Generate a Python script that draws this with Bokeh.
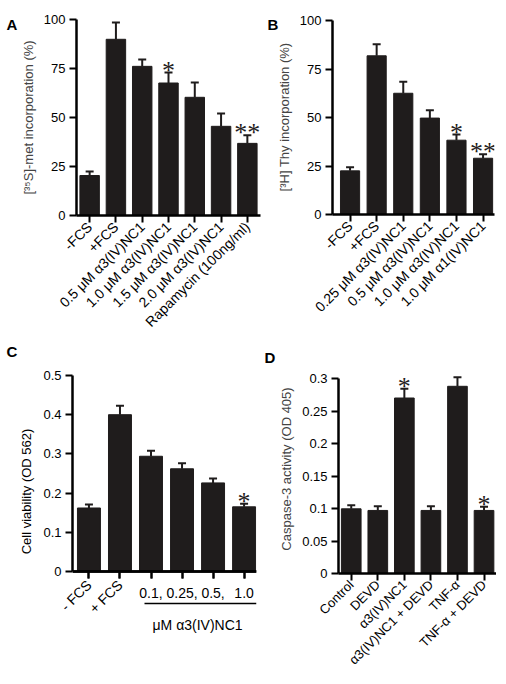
import math
from bokeh.plotting import figure
from bokeh.layouts import row, column
from bokeh.models import (Range1d, FixedTicker, Whisker, ColumnDataSource, LabelSet,
                          Label, TeeHead, LinearAxis)
from bokeh.embed import file_html
from bokeh.resources import INLINE

FONT = "Liberation Sans"
BAR = "#1f1c1c"

# ---------------- Panel A ----------------
a_labels = ["-FCS", "+FCS", "0.5 μM α3(IV)NC1", "1.0 μM α3(IV)NC1",
            "1.5 μM α3(IV)NC1", "2.0 μM α3(IV)NC1", "Rapamycin (100ng/ml)"]
a_values = [20.4, 89.9, 76.1, 67.6, 60.3, 45.5, 36.8]
a_upper = [22.5, 98.5, 79.6, 72.9, 67.8, 52.0, 40.9]
a_stars = ["", "", "", "*", "", "", "**"]
a_yticks = [0, 25, 50, 75, 100]
a_yticklabels = ["0", "25", "50", "75", "100"]
a_ylabel = "[³⁵S]-met incorporation (%)"

# ---------------- Panel B ----------------
b_labels = ["-FCS", "+FCS", "0.25 μM α3(IV)NC1", "0.5 μM α3(IV)NC1",
            "1.0 μM α3(IV)NC1", "1.0 μM α1(IV)NC1"]
b_values = [22.5, 81.8, 62.5, 49.7, 38.3, 29.0]
b_upper = [24.4, 87.8, 68.4, 53.8, 41.2, 31.1]
b_stars = ["", "", "", "", "*", "**"]
b_yticks = [0, 25, 50, 75, 100]
b_yticklabels = ["0", "25", "50", "75", "100"]
b_ylabel = "[³H] Thy incorporation (%)"

# ---------------- Panel C ----------------
c_labels = ["- FCS", "+ FCS", "0.1,", "0.25,", "0.5,", "1.0"]
c_group_label = "μM α3(IV)NC1"
c_values = [0.162, 0.400, 0.294, 0.262, 0.226, 0.165]
c_upper = [0.171, 0.423, 0.308, 0.276, 0.237, 0.173]
c_stars = ["", "", "", "", "", "*"]
c_yticks = [0, 0.1, 0.2, 0.3, 0.4, 0.5]
c_yticklabels = ["0", "0.1", "0.2", "0.3", "0.4", "0.5"]
c_ylabel = "Cell viability (OD 562)"

# ---------------- Panel D ----------------
d_labels = ["Control", "DEVD", "α3(IV)NC1", "α3(IV)NC1 + DEVD", "TNF-α", "TNF-α + DEVD"]
d_values = [0.0995, 0.097, 0.270, 0.097, 0.288, 0.097]
d_upper = [0.105, 0.1036, 0.2844, 0.1036, 0.302, 0.1026]
d_stars = ["", "", "*", "", "", "*"]
d_yticks = [0, 0.05, 0.1, 0.15, 0.2, 0.25, 0.3]
d_yticklabels = ["0", "0.05", "0.1", "0.15", "0.2", "0.25", "0.3"]
d_ylabel = "Caspase-3 activity (OD 405)"

LABEL_SIZE = "14px"


def style_x_axis(ax, size=LABEL_SIZE):
    ax.minor_tick_line_color = None
    ax.axis_line_width = 2.5
    ax.major_tick_line_width = 2
    ax.major_tick_out = 7
    ax.major_tick_in = 0
    ax.major_label_text_font = FONT
    ax.major_label_text_font_size = size
    ax.major_label_text_color = "black"


def make_panel(labels, values, upper, stars, yticks, yticklabels, ylabel, letter,
               fig_box, frame_box, xr, y_px, letter_px, bar_w,
               default_xaxis=True, ylabel_px=None, xlabel_size=LABEL_SIZE):
    """fig_box = (left, top, width, height) on the page; frame_box = (l, t, r, b) on page.
    y_px = (page y of the top tick, page y of 0)."""
    fl, ft, fwid, fhei = fig_box
    l, t, r, b = frame_box
    fw, fh = r - l, b - t
    y_top_px, y_zero_px = y_px
    ymax = yticks[-1]
    per_px = ymax / (y_zero_px - y_top_px)
    y_end = ymax + (y_top_px - t) * per_px
    y_start = -(b - y_zero_px) * per_px
    p = figure(frame_width=fw, frame_height=fh,
               min_border_left=l - fl, min_border_right=fl + fwid - r,
               min_border_top=t - ft, min_border_bottom=ft + fhei - b,
               x_range=Range1d(*xr), y_range=Range1d(y_start, y_end),
               x_axis_location="below" if default_xaxis else None,
               output_backend="svg", toolbar_location=None)
    p.outline_line_color = None
    p.grid.visible = False
    p.background_fill_color = "white"
    p.border_fill_color = "white"

    def to_data(px, py):
        return (xr[0] + (px - l) * (xr[1] - xr[0]) / fw,
                ymax + (y_top_px - py) * per_px)

    n = len(values)
    xs = list(range(n))
    src = ColumnDataSource(dict(x=xs, top=values, up=upper, star=stars))
    p.vbar(x="x", top="top", bottom=0, width=bar_w, source=src,
           fill_color=BAR, line_color=BAR)
    p.add_layout(Whisker(base="x", lower="top", upper="up", source=src,
                         line_color=BAR, line_width=2, lower_head=None,
                         upper_head=TeeHead(size=8, line_width=2, line_color=BAR)))
    p.add_layout(LabelSet(x="x", y="up", text="star", source=src,
                          text_align="center", text_baseline="alphabetic",
                          text_font="DejaVu Sans", text_font_size="26px",
                          y_offset=-6, text_color=BAR))

    # y axis
    ya = p.yaxis[0]
    ya.ticker = FixedTicker(ticks=yticks)
    ya.bounds = (yticks[0], yticks[-1])
    ya.major_label_overrides = {tk: lb for tk, lb in zip(yticks, yticklabels)}
    ya.minor_tick_line_color = None
    ya.axis_line_width = 2.5
    ya.major_tick_line_width = 2
    ya.major_tick_out = 7
    ya.major_tick_in = 0
    ya.major_label_standoff = 4
    ya.major_label_text_font = FONT
    ya.major_label_text_font_size = "13px"
    ya.major_label_text_color = "black"
    if ylabel_px is None:
        ya.axis_label = ylabel
        ya.axis_label_text_font = FONT
        ya.axis_label_text_font_size = "13px"
        ya.axis_label_text_font_style = "normal"
        ya.axis_label_standoff = 5

    if default_xaxis:
        xa = p.xaxis[0]
        xa.ticker = FixedTicker(ticks=xs)
        style_x_axis(xa, xlabel_size)
        xa.major_label_overrides = {i: lb for i, lb in zip(xs, labels)}
        xa.major_label_orientation = math.pi / 4
        xa.major_label_standoff = 2

    # panel letter, in the left side panel (not clipped), at a data-unit position
    lx, ly = to_data(*letter_px)
    p.add_layout(Label(x=lx, y=ly, text=letter, text_font=FONT, text_font_style="bold",
                       text_font_size="15px", text_color="black",
                       text_baseline="alphabetic", text_align="left"), "left")
    if ylabel_px is not None:
        tx, ty = to_data(*ylabel_px)
        p.add_layout(Label(x=tx, y=ty, text=ylabel, angle=math.pi / 2, text_font=FONT,
                           text_font_size="13px", text_color="black",
                           text_align="center", text_baseline="middle"), "left")
    return p, xs, to_data


# page coordinates (the canvas of each figure starts at page offset 2,2);
# frames in one row share the same top edge.
pA, _, _ = make_panel(a_labels, a_values, a_upper, a_stars, a_yticks, a_yticklabels, a_ylabel,
                      "A", (2, 2, 262, 336), (78, 21, 262, 217), (-0.5, 6.5), (21, 217),
                      (8, 26), 0.74)
pB, _, _ = make_panel(b_labels, b_values, b_upper, b_stars, b_yticks, b_yticklabels, b_ylabel,
                      "B", (264, 2, 234, 336), (331, 21, 493, 216), (-0.66, 5.43), (22, 216),
                      (266, 26), 0.72)
pC, c_xs, c_to_data = make_panel(c_labels, c_values, c_upper, c_stars, c_yticks, c_yticklabels,
                                 c_ylabel, "C", (2, 338, 262, 338), (74, 364, 258, 634),
                                 (-0.53, 5.4), (375, 571), (8, 351), 0.74,
                                 default_xaxis=False, ylabel_px=(28, 491))
pD, _, _ = make_panel(d_labels, d_values, d_upper, d_stars, d_yticks, d_yticklabels, d_ylabel,
                      "D", (264, 338, 234, 338), (340, 364, 498, 573), (-0.48, 5.47), (378, 573),
                      (266, 357), 0.74, xlabel_size="13px")

# Panel C: axes fixed at y = 0 (rotated "+ FCS" label, horizontal doses), the first
# rotated label in the bottom side panel (so the frame edge does not cut it), and a
# bracket axis under the doses carrying the shared unit label.
ax_fcs = LinearAxis(fixed_location=0, ticker=FixedTicker(ticks=c_xs),
                    major_label_overrides={i: (lb if i == 1 else "") for i, lb in zip(c_xs, c_labels)},
                    major_label_orientation=math.pi / 4, major_label_standoff=4)
style_x_axis(ax_fcs)
ax_num = LinearAxis(fixed_location=0, ticker=FixedTicker(ticks=c_xs),
                    major_label_overrides={i: (lb if i >= 2 else "") for i, lb in zip(c_xs, c_labels)},
                    major_label_standoff=9)
style_x_axis(ax_num)
pC.add_layout(ax_fcs, "below")
pC.add_layout(ax_num, "below")
pC.add_layout(Label(x=c_xs[0], y=0, text=c_labels[0], angle=math.pi / 4,
                    text_align="right", text_baseline="middle", y_offset=-11,
                    text_font=FONT, text_font_size=LABEL_SIZE, text_color="black"), "below")
grp_y = c_to_data(0, 603)[1]
grp_axis = LinearAxis(fixed_location=grp_y, bounds=(1.8, 5.4), ticker=FixedTicker(ticks=[3.5]),
                      major_label_overrides={3.5: c_group_label},
                      major_tick_out=0, major_tick_in=0, minor_tick_line_color=None,
                      axis_line_width=1.5, major_label_standoff=13,
                      major_label_text_font=FONT, major_label_text_font_size=LABEL_SIZE,
                      major_label_text_color="black")
pC.add_layout(grp_axis, "below")

layout = column(row(pA, pB), row(pC, pD))
open("out.html", "w").write(file_html(layout, INLINE))
